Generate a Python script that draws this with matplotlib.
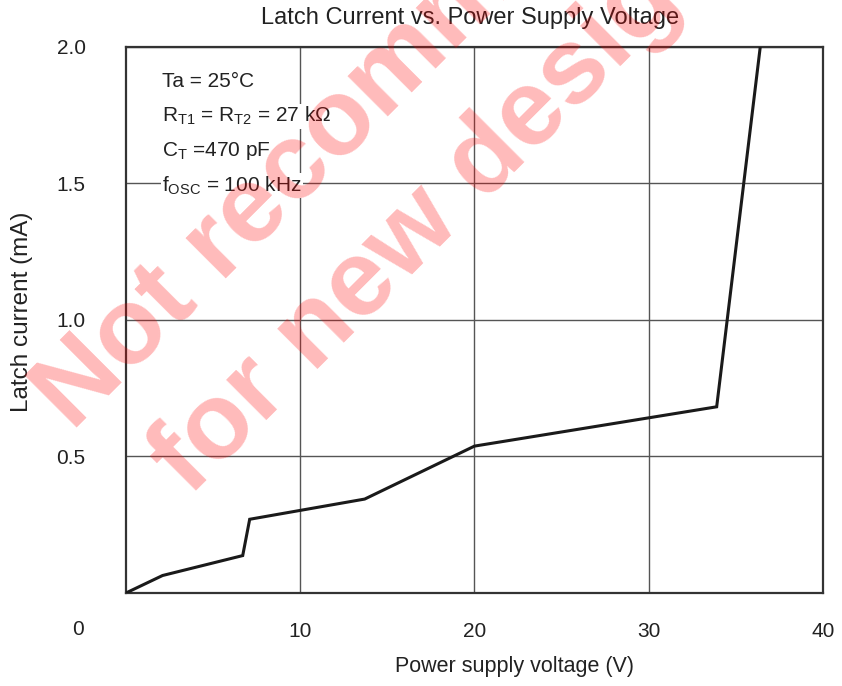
import matplotlib
matplotlib.use("Agg")
import matplotlib.pyplot as plt

plt.rcParams['font.family'] = ['Liberation Sans', 'DejaVu Sans']
plt.rcParams['mathtext.fontset'] = 'custom'
plt.rcParams['mathtext.rm'] = 'Liberation Sans'
plt.rcParams['mathtext.it'] = 'Liberation Sans:italic'

# supply voltage (V) vs latch current (mA)
voltage = [0, 2.1, 6.7, 7.1, 13.7, 20.0, 33.9, 36.4]
current = [0, 0.064, 0.137, 0.27, 0.344, 0.538, 0.682, 2.0]

x_ticks = [10, 20, 30, 40]
y_ticks = [0.5, 1.0, 1.5, 2.0]
notes = ["Ta = 25°C",
         r"R$_{\rm T1}$ = R$_{\rm T2}$ = 27 k$\Omega$",
         r"C$_{\rm T}$ =470 pF",
         r"f$_{\rm OSC}$ = 100 kHz"]
note_y = [1.872, 1.746, 1.618, 1.492]

fig = plt.figure(figsize=(8.42, 6.86), dpi=100)
ax = fig.add_axes([0.1496, 0.1356, 0.8278, 0.7959])

ax.plot(voltage, current, color='#1a1a1a', lw=2.2, zorder=3, solid_joinstyle='miter')
ax.set_xlim(0, 40)
ax.set_ylim(0, 2.0)
ax.set_xticks(x_ticks)
ax.set_yticks(y_ticks)
ax.set_yticklabels(["%.1f" % v for v in y_ticks])
ax.tick_params(length=0, labelsize=15, colors='#222222')
ax.tick_params(axis='x', pad=21)
ax.tick_params(axis='y', pad=29)
ax.grid(True, color='#555555', lw=1)
for s in ax.spines.values():
    s.set_color('#333333')
    s.set_linewidth(1.6)

# origin label sits under the y tick labels
ax.text(-0.069, -0.066, "0", transform=ax.transAxes, ha='center', va='center',
        fontsize=15, color='#222222')

for t, y in zip(notes, note_y):
    ax.text(2.07, y, t, fontsize=15, color='#222222', ha='left', va='center', zorder=4,
            bbox=dict(facecolor='white', edgecolor='none', pad=1))

fig.text(470 / 842, 1 - 18 / 686, "Latch Current vs. Power Supply Voltage",
         fontsize=17, color='#222222', ha='center', va='center')
ax.set_xlabel("Power supply voltage (V)", fontsize=15.5, color='#222222')
ax.xaxis.set_label_coords(0.557, -0.1355)
ax.xaxis.label.set_va('center')
ax.set_ylabel("Latch current (mA)", fontsize=17.5, color='#222222')
ax.yaxis.set_label_coords(-0.149, 0.515)
ax.yaxis.label.set_va('center')

# watermark
W, H = 842, 686
fig.text(72 / W, 1 - 432 / H, "Not recommended", rotation=45, rotation_mode='anchor',
         ha='left', va='baseline', fontsize=78, fontweight='bold', color='red', alpha=0.27, zorder=10)
fig.text(189 / W, 1 - 497 / H, "for new designs", rotation=45, rotation_mode='anchor',
         ha='left', va='baseline', fontsize=78, fontweight='bold', color='red', alpha=0.27, zorder=10)

fig.savefig("out.png", dpi=100)
